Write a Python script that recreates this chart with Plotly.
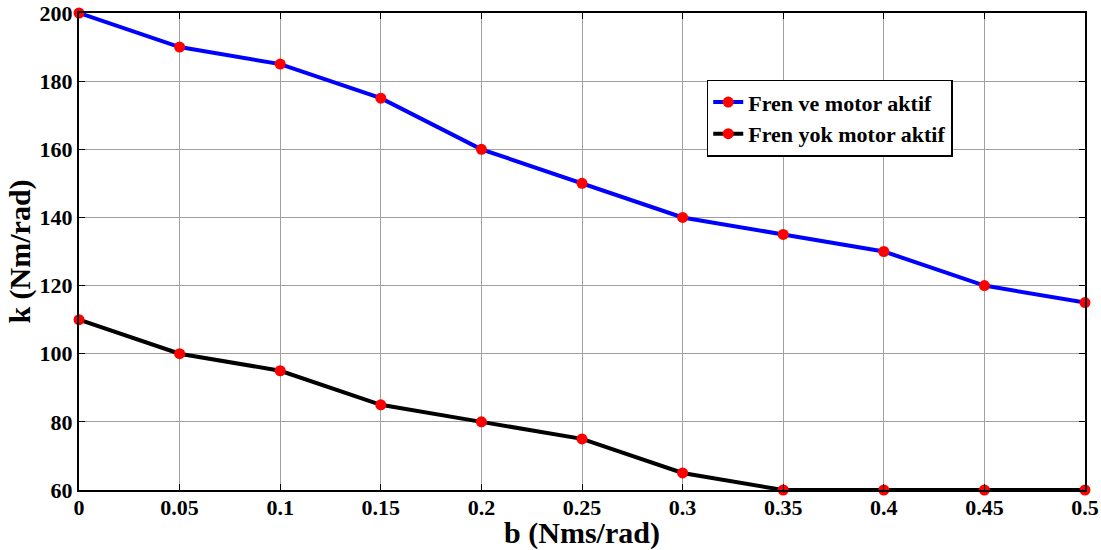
import plotly.graph_objects as go

b_vals = [0, 0.05, 0.1, 0.15, 0.2, 0.25, 0.3, 0.35, 0.4, 0.45, 0.5]
k_fren_motor = [200, 190, 185, 175, 160, 150, 140, 135, 130, 120, 115]
k_yok_motor = [110, 100, 95, 85, 80, 75, 65, 60, 60, 60, 60]
x_ticks = [0, 0.05, 0.1, 0.15, 0.2, 0.25, 0.3, 0.35, 0.4, 0.45, 0.5]
x_tick_text = ["0", "0.05", "0.1", "0.15", "0.2", "0.25", "0.3", "0.35", "0.4", "0.45", "0.5"]
y_ticks = [60, 80, 100, 120, 140, 160, 180, 200]

FONT = "Liberation Serif"

fig = go.Figure()
fig.add_trace(go.Scatter(
    x=b_vals, y=k_fren_motor, mode="lines+markers", name="Fren ve motor aktif",
    line=dict(color="#0000ff", width=4),
    marker=dict(color="#ff0000", size=11),
    cliponaxis=False,
))
fig.add_trace(go.Scatter(
    x=b_vals, y=k_yok_motor, mode="lines+markers", name="Fren yok motor aktif",
    line=dict(color="#000000", width=4),
    marker=dict(color="#ff0000", size=11),
    cliponaxis=False,
))

axis_common = dict(
    showline=True, linecolor="black", linewidth=2, mirror="ticks",
    ticks="inside", ticklen=6, tickcolor="black", tickwidth=1,
    showgrid=True, gridcolor="#a0a0a0", gridwidth=1,
    zeroline=False, automargin=False,
    tickfont=dict(family=FONT, size=22, color="black", weight="bold"),
)

fig.update_layout(
    width=1101, height=550,
    margin=dict(l=79, r=16, t=13, b=60),
    paper_bgcolor="white", plot_bgcolor="white",
    font=dict(family=FONT, color="black"),
    showlegend=True,
    legend=dict(
        x=0.624, y=0.86, xanchor="left", yanchor="top",
        bgcolor="white", bordercolor="black", borderwidth=1.5,
        font=dict(family=FONT, size=22, color="black", weight="bold"),
        itemwidth=30, tracegroupgap=0,
    ),
    xaxis=dict(
        range=[0, 0.5], tickvals=x_ticks, ticktext=x_tick_text,
        title=dict(text="b (Nms/rad)", font=dict(family=FONT, size=30, color="black", weight="bold"), standoff=2),
        ticklabelstandoff=-3,
        **axis_common,
    ),
    yaxis=dict(
        range=[60, 200], tickvals=y_ticks,
        title=dict(text="k (Nm/rad)", font=dict(family=FONT, size=30, color="black", weight="bold"), standoff=0),
        ticklabelstandoff=0,
        **axis_common,
    ),
)

fig.write_html("out.html", config={"displayModeBar": False},
               post_script="document.body.style.margin='0';")
